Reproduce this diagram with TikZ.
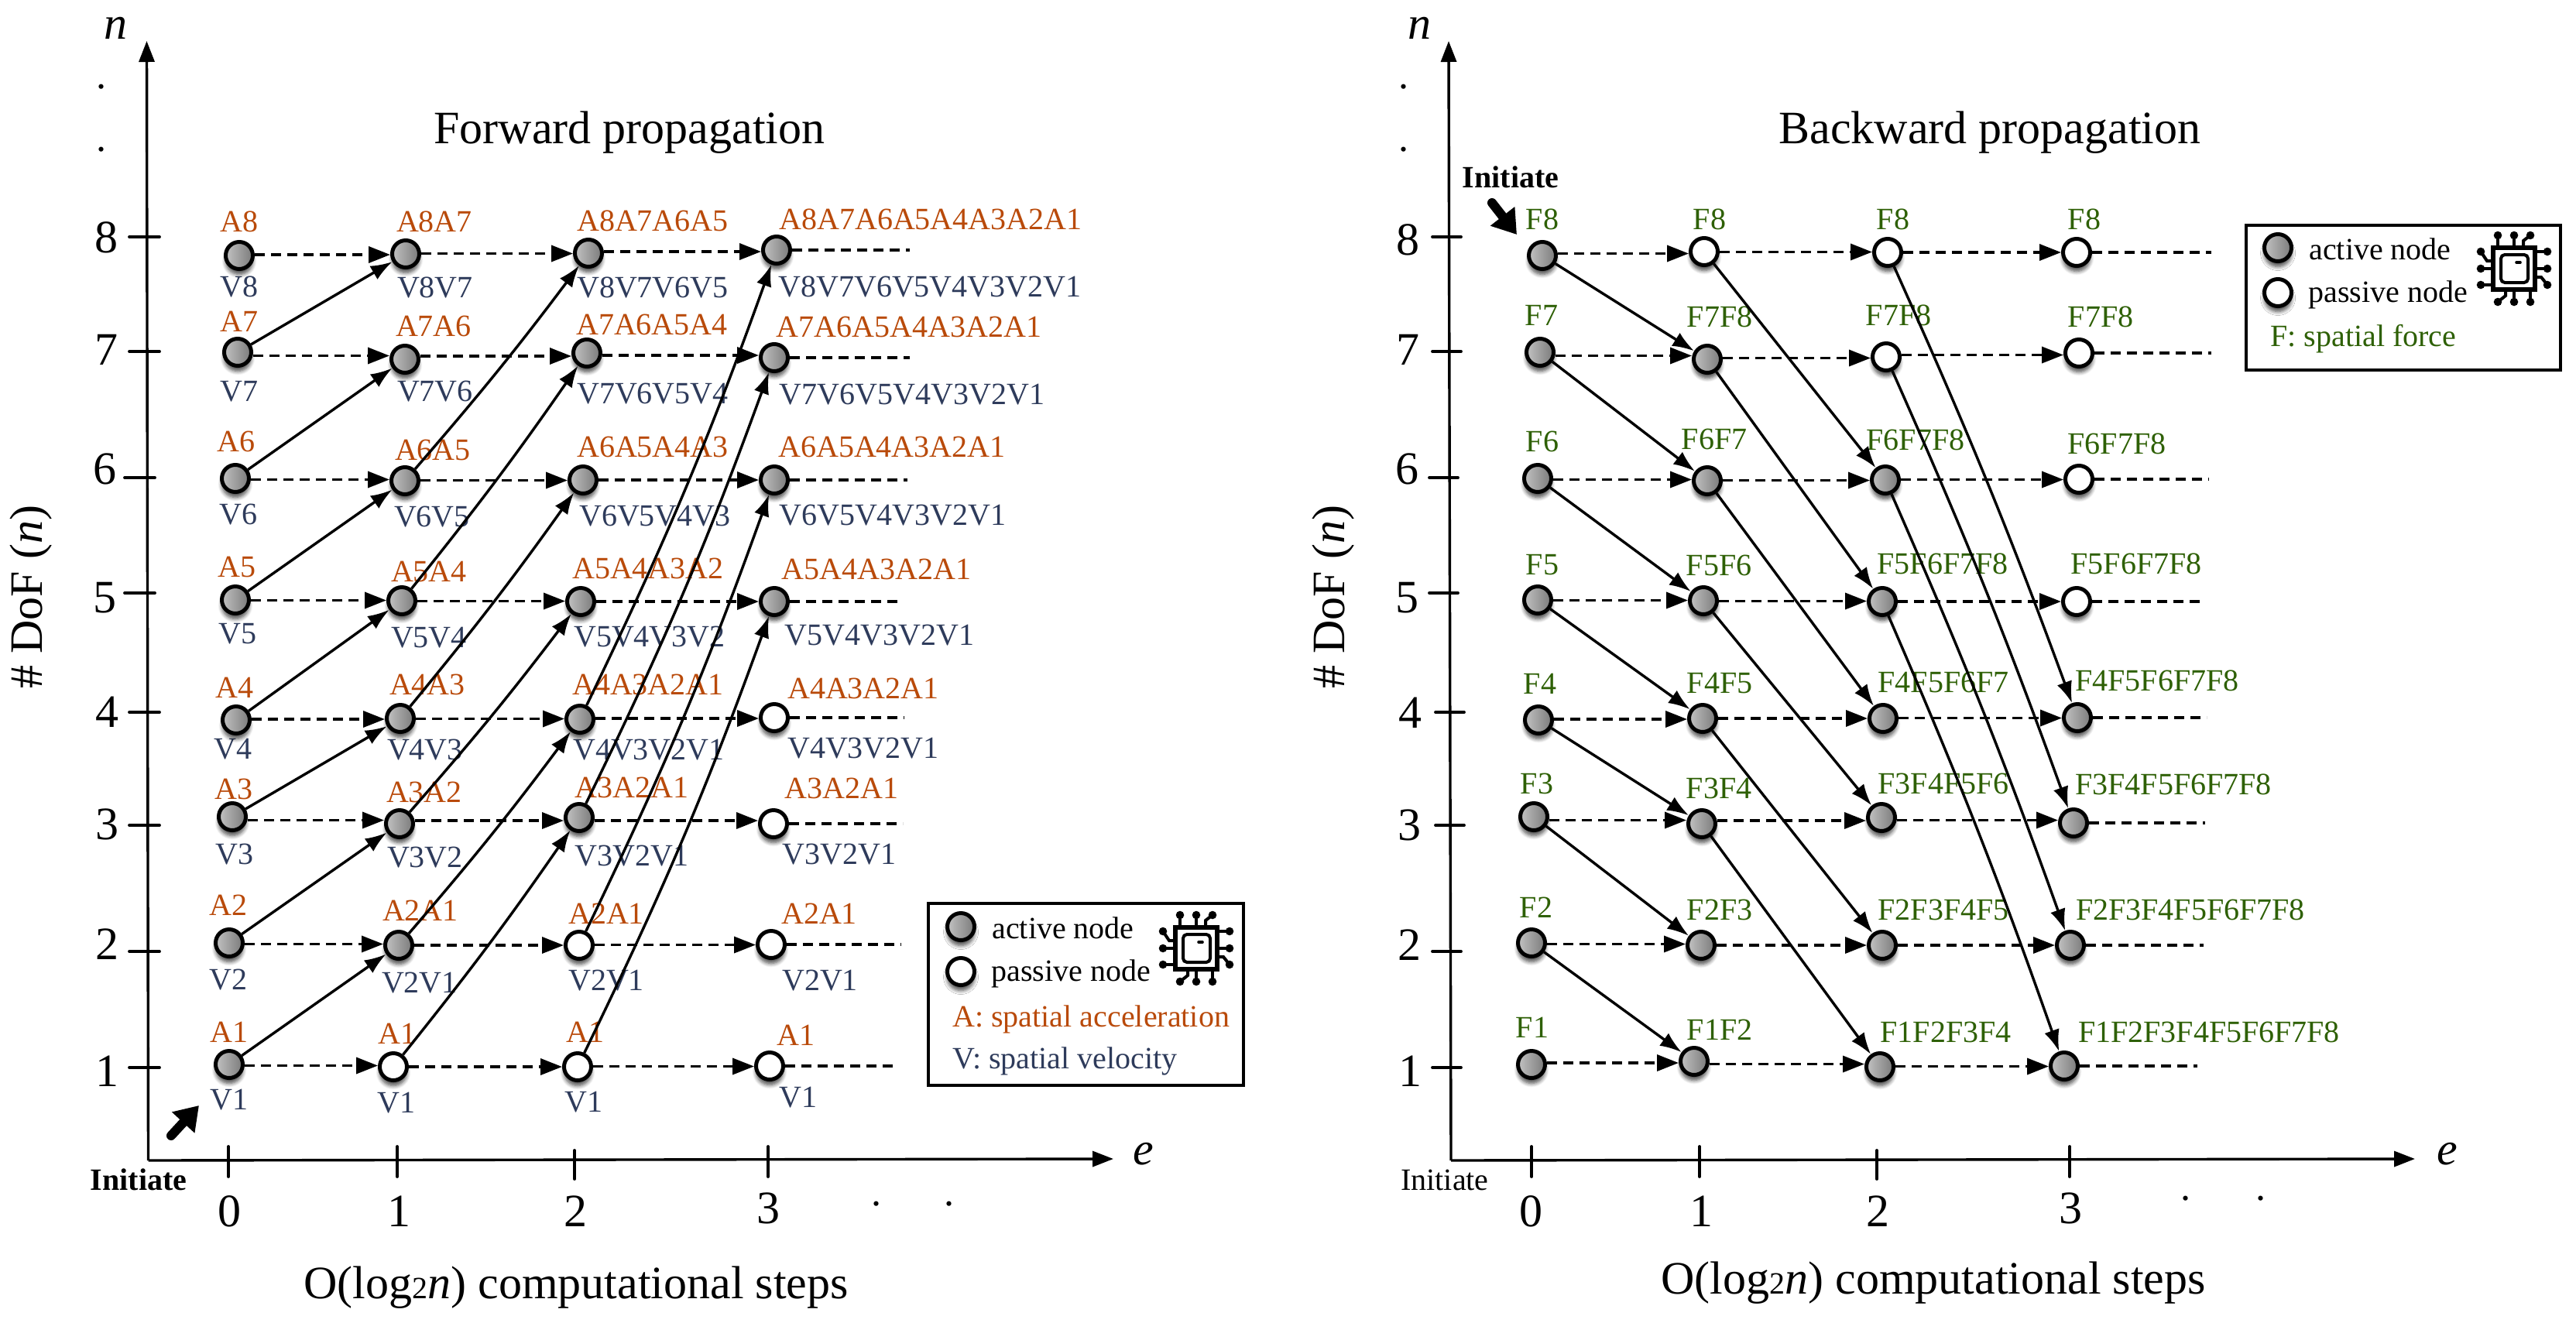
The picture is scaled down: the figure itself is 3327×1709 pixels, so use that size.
\documentclass[tikz,border=0pt]{standalone}
\usepackage{fontspec}
\setmainfont{Liberation Serif}
\usetikzlibrary{arrows.meta,shadows.blur,shapes.geometric,calc}
\definecolor{accA}{HTML}{B94A0A}
\definecolor{velV}{HTML}{2E3B5B}
\definecolor{forF}{HTML}{2E6005}
\tikzset{
  nodebase/.style={circle,inner sep=0pt,minimum size=17.5pt,line width=2.5pt,draw=black,
     blur shadow={shadow xshift=0pt,shadow yshift=-3.5pt,shadow blur steps=6,shadow blur radius=2.5pt,shadow opacity=70}},
  act/.style={nodebase,left color=black!24,right color=black!52},
  pas/.style={nodebase,fill=white},
  lab/.style={inner sep=0pt,font=\fontsize{20}{24}\selectfont},
  alab/.style={lab,text=accA},
  vlab/.style={lab,text=velV},
  flab/.style={lab,text=forF},
  big/.style={inner sep=0pt,font=\fontsize{30}{36}\selectfont},
  dots/.style={inner sep=0pt,font=\fontsize{26}{30}\selectfont},
  dasharrow/.style={line width=1.8pt,dash pattern=on 6.5pt off 4pt,-{Triangle[length=14pt,width=10.5pt]}},
  dashtrail/.style={line width=1.8pt,dash pattern=on 6.5pt off 4pt},
  diag/.style={line width=1.7pt,-{Latex[length=14pt,width=10pt]}},
  axisline/.style={line width=1.7pt,-{Triangle[length=13.5pt,width=10pt]}},
  tickline/.style={line width=1.9pt,line cap=round},
  initarrow/.style={line width=6pt,line cap=round,-{Triangle[length=15pt,width=19pt]}},
  legendbox/.style={draw=black,line width=2pt,fill=white,inner sep=0pt},
  legtext/.style={lab,anchor=base west},
  chip/.pic={
    \draw[line width=2.6pt] (-27,-27) rectangle (27,27);
    \draw[line width=2pt,rounded corners=2.5pt] (-17,-18) rectangle (18,18);
    \draw[line width=1.8pt,line cap=round] (3,-8) -- (8,-8);
    \foreach \px/\py/\qx/\qy/\rx/\ry in {
      -21/-29/-21/-36/-21/-43, 0/-29/0/-36/0/-43, 12/-29/12/-36/21/-43,
      -11/29/-11/35/-21/43, 0/29/0/36/0/43, 21/29/21/36/21/43,
      -29/-10/-35/-10/-43/-22, -29/0/-36/0/-43/0, -29/21/-36/21/-43/21,
      29/-22/36/-22/43/-22, 29/0/36/0/43/0, 29/11/35/11/43/21}{
      \draw[line width=2pt] (\px,\py) -- (\qx,\qy) -- (\rx,\ry);
      \fill (\rx,\ry) circle[radius=5.3];
    }
  }
}
\begin{document}
\begin{tikzpicture}[x=0.5pt,y=-0.5pt]
\useasboundingbox (0,0) rectangle (3327,1709);

% ---------- titles and axis captions
\node[big,anchor=base] (titleL) at (813,185) {Forward propagation};
\node[big,anchor=base] (titleR) at (2570,185) {Backward propagation};
\node[big,anchor=base] (capL) at (744,1677) {O(log{\fontsize{20}{24}\selectfont 2}\textit{n}) computational steps};
\node[big,anchor=base] (capR) at (2497,1671) {O(log{\fontsize{20}{24}\selectfont 2}\textit{n}) computational steps};
\node[big,rotate=90] (yL) at (40,771) {\# DoF (\textit{n})};
\node[big,rotate=90] (yR) at (1722,771) {\# DoF (\textit{n})};
\node[big] (nL) at (149,36) {\textit{n}};
\node[big] (nR) at (1833,36) {\textit{n}};
\node[big] (eL) at (1477,1491) {\textit{e}};
\node[big] (eR) at (3161,1491) {\textit{e}};

% ---------- axes
\coordinate (oL) at (191.5,1499);
\coordinate (topL) at (189.5,53);
\coordinate (endL) at (1438,1497);
\coordinate (oR) at (1874,1499);
\coordinate (topR) at (1871,53);
\coordinate (endR) at (3119,1497);
\draw[axisline] (oL) -- (topL);
\draw[axisline] (oL) -- (endL);
\draw[axisline] (oR) -- (topR);
\draw[axisline] (oR) -- (endR);

% y ticks and numbers
\foreach \y/\a/\b in {306/167/206,454/167/206,617/161/200,766/161/200,920/167/206,1066/167/206,1229/167/206,1379/167/206}
  \draw[tickline] (\a,\y) -- (\b,\y);
\foreach \y/\a/\b in {306/1850/1887,454/1850/1887,617/1846/1883,766/1846/1883,920/1854/1891,1066/1854/1891,1229/1850/1887,1379/1850/1887}
  \draw[tickline] (\a,\y) -- (\b,\y);
\foreach \n/\x/\y/\t in {yl8/137/307/8,yl7/137/452/7,yl6/135/606/6,yl5/135/772/5,yl4/138/920/4,yl3/138/1065/3,yl2/138/1220/2,yl1/138/1384/1,
   yr8/1818/310/8,yr7/1818/452/7,yr6/1817/606/6,yr5/1817/772/5,yr4/1821/921/4,yr3/1820/1066/3,yr2/1820/1221/2,yr1/1821/1384/1,
   xl0/296/1565/0,xl1/515/1565/1,xl2/743/1565/2,xl3/992/1561/3,
   xr0/1977/1565/0,xr1/2197/1565/1,xr2/2425/1565/2,xr3/2674/1561/3}
  \node[big] (\n) at (\x,\y) {\t};
% x ticks
\foreach \x/\a/\b in {295/1481/1520,513/1481/1520,742/1486/1523,992/1481/1520,1978/1481/1520,2195/1481/1520,2424/1486/1523,2673/1481/1520}
  \draw[tickline] (\x,\a) -- (\x,\b);
% dots
\foreach \n/\x/\y in {da/131/112,db/131/193,dc/1813/112,dd/1813/193,de/1132/1555,df/1226/1555,dg/2823/1548,dh/2920/1548}
  \node[dots] (\n) at (\x,\y) {.};

% ---------- initiate
\node[lab,font=\fontsize{20}{24}\selectfont\bfseries] (initL) at (179,1524) {Initiate};
\node[lab] (initR) at (1866,1524) {Initiate};
\node[lab,font=\fontsize{20}{24}\selectfont\bfseries] (initT) at (1951,229) {Initiate};
\coordinate (ia) at (221,1467); \coordinate (ib) at (257,1428);
\draw[initarrow] (ia) -- (ib);
\coordinate (ic) at (1927,262); \coordinate (id) at (1959,303);
\draw[initarrow] (ic) -- (id);

% ---------- labels, forward
\foreach \n/\x/\y/\t in {
 a80/309/286/A8,a81/561/286/A8A7,a82/843/285/A8A7A6A5,a83/1202/283/A8A7A6A5A4A3A2A1,
 a70/309/415/A7,a71/560/421/A7A6,a72/842/419/A7A6A5A4,a73/1174/422/A7A6A5A4A3A2A1,
 a60/305/570/A6,a61/559/581/A6A5,a62/843/577/A6A5A4A3,a63/1152/577/A6A5A4A3A2A1,
 a50/306/732/A5,a51/554/738/A5A4,a52/837/734/A5A4A3A2,a53/1132/735/A5A4A3A2A1,
 a40/303/888/A4,a41/552/884/A4A3,a42/837/884/A4A3A2A1,a43/1115/889/A4A3A2A1,
 a30/302/1019/A3,a31/548/1023/A3A2,a32/816/1017/A3A2A1,a33/1087/1018/A3A2A1,
 a20/295/1169/A2,a21/543/1176/A2A1,a22/783/1180/A2A1,a23/1058/1180/A2A1,
 a10/296/1333/A1,a11/513/1335/A1,a12/756/1333/A1,a13/1028/1337/A1}
  \node[alab] (\n) at (\x,\y) {\t};
\foreach \n/\x/\y/\t in {
 v80/309/370/V8,v81/562/371/V8V7,v82/843/371/V8V7V6V5,v83/1201/370/V8V7V6V5V4V3V2V1,
 v70/309/506/V7,v71/562/506/V7V6,v72/843/509/V7V6V5V4,v73/1178/510/V7V6V5V4V3V2V1,
 v60/308/665/V6,v61/558/668/V6V5,v62/846/667/V6V5V4V3,v63/1153/666/V6V5V4V3V2V1,
 v50/307/819/V5,v51/554/824/V5V4,v52/839/823/V5V4V3V2,v53/1136/821/V5V4V3V2V1,
 v40/301/968/V4,v41/549/969/V4V3,v42/838/969/V4V3V2V1,v43/1115/967/V4V3V2V1,
 v30/303/1104/V3,v31/549/1108/V3V2,v32/816/1106/V3V2V1,v33/1084/1104/V3V2V1,
 v20/295/1266/V2,v21/542/1270/V2V1,v22/783/1267/V2V1,v23/1059/1267/V2V1,
 v10/296/1421/V1,v11/512/1425/V1,v12/754/1424/V1,v13/1031/1418/V1}
  \node[vlab] (\n) at (\x,\y) {\t};

% ---------- labels, backward
\foreach \n/\x/\y/\t in {
 f80/1992/283/F8,f81/2208/283/F8,f82/2445/283/F8,f83/2692/283/F8,
 f70/1991/407/F7,f71/2221/409/F7F8,f72/2452/407/F7F8,f73/2713/409/F7F8,
 f60/1992/570/F6,f61/2214/567/F6F7,f62/2474/568/F6F7F8,f63/2734/573/F6F7F8,
 f50/1992/730/F5,f51/2220/730/F5F6,f52/2509/728/F5F6F7F8,f53/2759/728/F5F6F7F8,
 f40/1989/883/F4,f41/2221/883/F4F5,f42/2510/881/F4F5F6F7,f43/2786/879/F4F5F6F7F8,
 f30/1985/1012/F3,f31/2220/1018/F3F4,f32/2510/1012/F3F4F5F6,f33/2807/1013/F3F4F5F6F7F8,
 f20/1984/1172/F2,f21/2221/1175/F2F3,f22/2510/1175/F2F3F4F5,f23/2829/1175/F2F3F4F5F6F7F8,
 f10/1979/1327/F1,f11/2221/1330/F1F2,f12/2513/1333/F1F2F3F4,f13/2853/1333/F1F2F3F4F5F6F7F8}
  \node[flab] (\n) at (\x,\y) {\t};

% ---------- graph nodes, forward
\foreach \n/\x/\y/\s in {
 l80/309/330/act,l81/524/328/act,l82/760/327/act,l83/1003/323/act,
 l70/307/455/act,l71/523/464/act,l72/758/456/act,l73/1000/462/act,
 l60/304/618/act,l61/523/621/act,l62/753/620/act,l63/1000/620/act,
 l50/304/775/act,l51/519/776/act,l52/750/777/act,l53/1000/777/act,
 l40/305/930/act,l41/517/928/act,l42/749/929/act,l43/1000/927/pas,
 l30/300/1055/act,l31/516/1064/act,l32/748/1056/act,l33/999/1064/pas,
 l20/296/1218/act,l21/515/1221/act,l22/748/1221/pas,l23/996/1220/pas,
 l10/296/1375/act,l11/508/1378/pas,l12/746/1378/pas,l13/994/1377/pas}
  \node[\s] (\n) at (\x,\y) {};
% ---------- graph nodes, backward
\foreach \n/\x/\y/\s in {
 r80/1992/330/act,r81/2201/325/pas,r82/2438/326/pas,r83/2682/326/pas,
 r70/1989/455/act,r71/2205/464/act,r72/2436/461/pas,r73/2685/456/pas,
 r60/1986/618/act,r61/2205/621/act,r62/2435/620/act,r63/2685/619/pas,
 r50/1986/775/act,r51/2200/776/act,r52/2431/777/act,r53/2682/777/pas,
 r40/1987/930/act,r41/2199/928/act,r42/2432/928/act,r43/2683/927/act,
 r30/1981/1055/act,r31/2198/1064/act,r32/2430/1056/act,r33/2678/1063/act,
 r20/1978/1218/act,r21/2197/1221/act,r22/2431/1221/act,r23/2674/1221/act,
 r10/1978/1375/act,r11/2188/1371/act,r12/2428/1378/act,r13/2666/1377/act}
  \node[\s] (\n) at (\x,\y) {};

% ---------- dashed arrows (horizontal, at the mean height of their two nodes) and trails
\foreach \r in {1,...,8}{
  \foreach \a/\b in {0/1,1/2,2/3}{
    \draw[dasharrow] let \p1=(l\r\a.east),\p2=(l\r\b.west) in (\x1,{0.5*\y1+0.5*\y2}) -- (\x2,{0.5*\y1+0.5*\y2});
    \draw[dasharrow] let \p1=(r\r\a.east),\p2=(r\r\b.west) in (\x1,{0.5*\y1+0.5*\y2}) -- (\x2,{0.5*\y1+0.5*\y2});
  }
}
\foreach \r/\xa/\xb in {8/1175/2856,7/1175/2856,6/1172/2853,5/1165/2846,4/1168/2850,3/1166/2848,2/1164/2846,1/1158/2838}{
  \coordinate (tl\r) at (l\r3.east -| \xa,0);
  \coordinate (tr\r) at (r\r3.east -| \xb,0);
  \draw[dashtrail] (l\r3.east) -- (tl\r);
  \draw[dashtrail] (r\r3.east) -- (tr\r);
}

% ---------- forward connections
\foreach \r/\t in {1/2,2/3,3/4,4/5,5/6,6/7,7/8}
  \draw[diag] (l\r0) -- (l\t1);
\foreach \r/\t in {1/3,2/4,3/5,4/6,5/7,6/8}
  \draw[diag] (l\r1) to[bend right=2] (l\t2);
\foreach \r/\t in {1/5,2/6,3/7,4/8}
  \draw[diag] (l\r2) to[bend right=3] (l\t3);

% ---------- backward connections
\foreach \r/\t in {8/7,7/6,6/5,5/4,4/3,3/2,2/1}
  \draw[diag] (r\r0) -- (r\t1);
\foreach \r/\t in {8/6,7/5,6/4,5/3,4/2,3/1}
  \draw[diag] (r\r1) -- (r\t2);
\foreach \r/\t in {8/4,7/3,6/2,5/1}
  \draw[diag] (r\r2) to[bend left=2] (r\t3);

% ---------- legends
\node[legendbox,minimum width=203.5pt,minimum height=117.5pt] (legL) at (1402.5,1284.5) {};
\node[act] (legLa) at (1241,1197) {};
\node[pas] (legLp) at (1241,1255) {};
\node[legtext] (legLat) at (1281,1212) {active node};
\node[legtext] (legLpt) at (1280,1267) {passive node};
\node[legtext,text=accA] (legLA) at (1230,1326) {A: spatial acceleration};
\node[legtext,text=velV] (legLV) at (1230,1380) {V: spatial velocity};
\pic at (1545,1225) {chip};

\node[legendbox,minimum width=203pt,minimum height=93.5pt] (legR) at (3104,384.5) {};
\node[act] (legRa) at (2942,320) {};
\node[pas] (legRp) at (2942,378) {};
\node[legtext] (legRat) at (2982,335) {active node};
\node[legtext] (legRpt) at (2981,390) {passive node};
\node[legtext,text=forF] (legRF) at (2932,447) {F: spatial force};
\pic at (3247,347) {chip};
\end{tikzpicture}
\end{document}
